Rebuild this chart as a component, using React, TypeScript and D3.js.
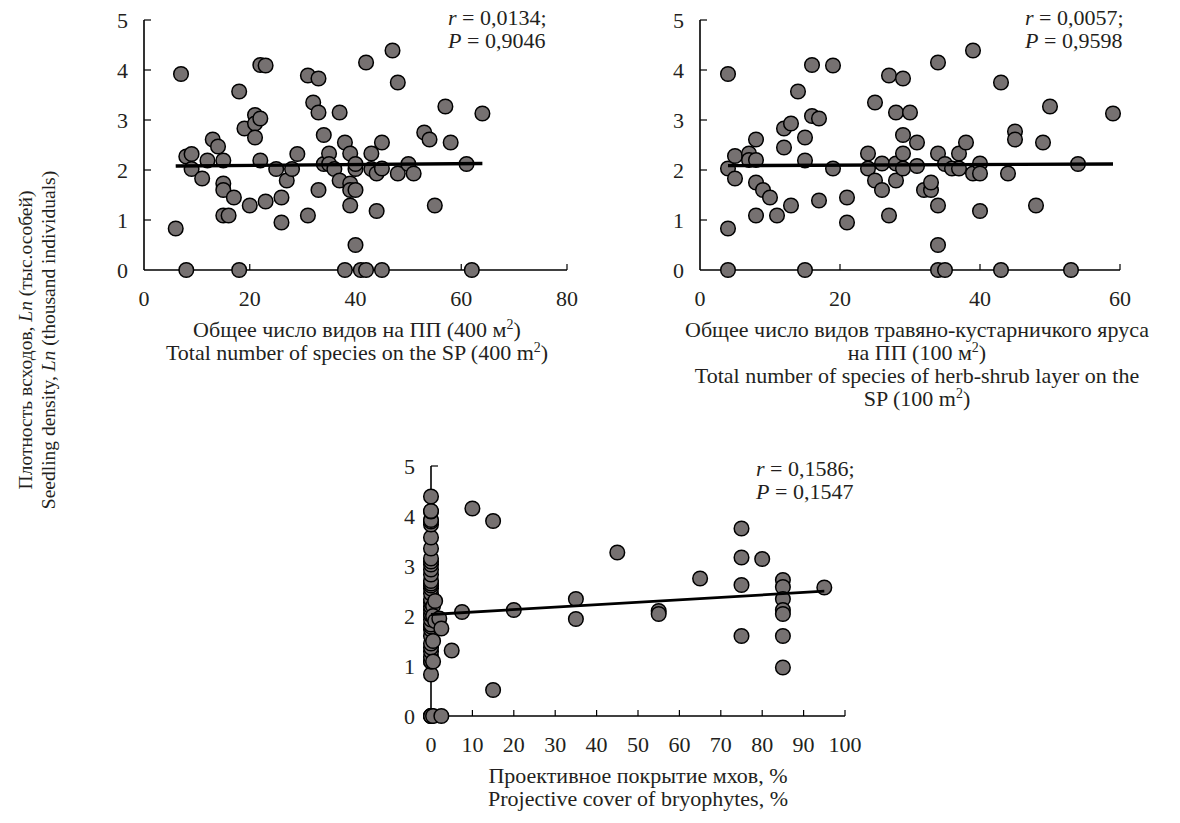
import React from "react";
import * as d3 from "d3";

// Panel 1: total number of species on SP (400 m2) vs Ln seedling density
const speciesTotal = [7, 6, 8, 8, 9, 9, 11, 12, 13, 14, 15, 15, 15, 15, 16, 17, 18, 18, 19, 20, 21, 21, 22, 21, 22, 22, 23, 23, 25, 26, 26, 27, 28, 29, 31, 31, 32, 33, 33, 33, 34, 34, 35, 35, 36, 37, 37, 38, 38, 39, 39, 39, 40, 39, 40, 40, 40, 41, 42, 42, 43, 43, 44, 44, 45, 45, 45, 47, 48, 48, 50, 51, 53, 54, 55, 57, 58, 61, 62, 64];
const densityTotal = [3.92, 0.83, 0, 2.27, 2.32, 2.02, 1.83, 2.19, 2.61, 2.47, 2.19, 1.73, 1.6, 1.09, 1.09, 1.45, 0, 3.57, 2.83, 1.29, 3.1, 2.93, 3.03, 2.65, 2.19, 4.1, 4.09, 1.37, 2.02, 1.45, 0.95, 1.79, 2.02, 2.32, 3.89, 1.09, 3.35, 3.83, 3.15, 1.6, 2.7, 2.12, 2.33, 2.12, 2.02, 3.15, 1.79, 2.55, 0, 2.33, 1.73, 1.6, 1.6, 1.29, 0.5, 2.02, 2.12, 0, 0, 4.15, 2.02, 2.33, 1.93, 1.18, 2.55, 0, 2.03, 4.39, 3.75, 1.93, 2.12, 1.93, 2.75, 2.61, 1.29, 3.27, 2.55, 2.12, 0, 3.13];

// Panel 2: species of herb-shrub layer (100 m2)
const speciesHerb = [4, 4, 4, 4, 5, 5, 7, 7, 8, 8, 8, 8, 9, 10, 11, 12, 12, 13, 13, 14, 15, 15, 15, 16, 16, 17, 17, 19, 19, 21, 21, 24, 24, 25, 25, 26, 26, 27, 27, 28, 28, 28, 29, 29, 29, 29, 30, 31, 31, 32, 33, 33, 34, 34, 34, 34, 34, 35, 35, 36, 37, 37, 38, 39, 39, 40, 40, 40, 43, 43, 44, 45, 45, 48, 49, 50, 53, 54, 59];
const densityHerb = [3.92, 2.03, 0.83, 0, 2.28, 1.83, 2.33, 2.2, 2.61, 2.2, 1.75, 1.09, 1.6, 1.45, 1.09, 2.83, 2.45, 2.93, 1.29, 3.57, 2.65, 2.19, 0, 4.1, 3.08, 3.03, 1.39, 4.09, 2.03, 1.45, 0.95, 2.33, 2.03, 3.35, 1.79, 2.13, 1.6, 3.89, 1.09, 3.15, 2.13, 1.79, 3.83, 2.7, 2.33, 2.03, 3.15, 2.55, 2.08, 1.6, 1.6, 1.75, 4.15, 2.33, 1.29, 0.5, 0, 0, 2.12, 2.03, 2.33, 2.03, 2.55, 4.39, 1.93, 2.13, 1.93, 1.18, 3.75, 0, 1.93, 2.77, 2.61, 1.29, 2.55, 3.27, 0, 2.12, 3.13];

// Panel 3: projective cover of bryophytes, %
const mossCover = [0, 0, 0, 0, 0, 0, 0, 0, 0, 0, 0, 0, 0, 0, 0, 0, 0, 0, 0, 0, 0, 0, 0, 0, 0, 0, 0, 0, 0, 0, 0, 0, 0, 0, 0, 0, 0, 0, 0, 0.5, 0.5, 0.5, 0.5, 0.5, 1, 1, 2, 2.5, 2.5, 5, 7.5, 10, 15, 15, 20, 35, 35, 45, 55, 55, 65, 75, 75, 75, 75, 80, 85, 85, 85, 85, 85, 85, 85, 95];
const densityMoss = [0, 0, 0, 0.83, 1.09, 1.09, 1.18, 1.29, 1.37, 1.45, 1.6, 1.73, 1.79, 1.83, 1.93, 2.02, 2.03, 2.12, 2.19, 2.27, 2.33, 2.45, 2.55, 2.61, 2.65, 2.7, 2.83, 2.93, 3.03, 3.09, 3.15, 3.35, 3.57, 3.83, 3.89, 3.92, 4.09, 4.1, 4.39, 2.2, 1.09, 1.5, 2.0, 0, 2.3, 1.9, 1.95, 1.75, 0, 1.31, 2.08, 4.15, 3.9, 0.52, 2.12, 2.34, 1.94, 3.27, 2.1, 2.04, 2.75, 3.75, 3.17, 2.62, 1.6, 3.14, 2.72, 2.58, 2.34, 2.12, 2.04, 1.6, 0.97, 2.57];

// regression lines
const trendIntercept = [2.075, 2.085, 2.03];
const trendSlope = [0.00086, 0.0006, 0.0049];
const rLabels = ["0,0134", "0,0057", "0,1586"];
const pLabels = ["0,9046", "0,9598", "0,1547"];

const FONT = "'Liberation Serif', 'Times New Roman', serif";
const FS = 22;
const DOT = "#767171";

type TitleLine = { text: string; sup?: string; tail?: string };

function Panel(props: {
  xs: number[];
  ys: number[];
  idx: number;
  xMax: number;
  xStep: number;
  left: number;
  right: number;
  top: number;
  bottom: number;
  statX: number;
  statY: number;
  titleX: number;
  lineW: number;
  title: TitleLine[];
}) {
  const { xs, ys, idx, xMax, xStep, left, right, top, bottom } = props;
  const x = d3.scaleLinear().domain([0, xMax]).range([left, right]);
  const y = d3.scaleLinear().domain([0, 5]).range([bottom, top]);
  const xTicks = d3.range(0, xMax + 0.001, xStep);
  const yTicks = d3.range(0, 6);
  const [x0, x1] = d3.extent(xs) as [number, number];
  const line = d3.line<number>()
    .x((d) => x(d))
    .y((d) => y(trendIntercept[idx] + trendSlope[idx] * d));

  return (
    <g fontFamily={FONT} fontSize={FS} fill="#231f20">
      {/* axes */}
      <line x1={left} x2={left} y1={top} y2={bottom} stroke="#000" strokeWidth={1.6} />
      <line x1={left} x2={right} y1={bottom} y2={bottom} stroke="#000" strokeWidth={1.6} />
      {yTicks.map((t) => (
        <g key={"y" + t}>
          {t > 0 && <line x1={left} x2={left + 7} y1={y(t)} y2={y(t)} stroke="#000" strokeWidth={1.2} />}
          <text x={left - 16} y={y(t) + 7.5} textAnchor="end">{t}</text>
        </g>
      ))}
      {xTicks.map((t) => (
        <g key={"x" + t}>
          {t > 0 && <line x1={x(t)} x2={x(t)} y1={bottom} y2={bottom - 6} stroke="#000" strokeWidth={1.2} />}
          <text x={x(t)} y={bottom + 36} textAnchor="middle">{t}</text>
        </g>
      ))}
      {/* points */}
      {xs.map((d, i) => (
        <circle key={i} cx={x(d)} cy={y(ys[i])} r={7.3} fill={DOT} stroke="#000" strokeWidth={1.5} />
      ))}
      <path d={line([x0, x1]) ?? ""} stroke="#000" strokeWidth={props.lineW} fill="none" />
      {/* stats */}
      <text x={props.statX} y={props.statY}>
        <tspan fontStyle="italic">r</tspan> = {rLabels[idx]};
      </text>
      <text x={props.statX} y={props.statY + 23}>
        <tspan fontStyle="italic">P</tspan> = {pLabels[idx]}
      </text>
      {/* axis title */}
      {props.title.map((l, i) => (
        <text key={i} x={props.titleX} y={bottom + 67 + i * 23} textAnchor="middle">
          {l.text}
          {l.sup && <tspan dy={-8} fontSize={14}>{l.sup}</tspan>}
          {l.tail && <tspan dy={8}>{l.tail}</tspan>}
        </text>
      ))}
    </g>
  );
}

export default function App() {
  return (
    <svg width={1180} height={823} style={{ position: "absolute", left: 0, top: 0, background: "#fff" }}>
      <rect width={1180} height={823} fill="#fff" />
      <Panel
        xs={speciesTotal} ys={densityTotal} idx={0} xMax={80} xStep={20}
        left={144} right={567} top={20} bottom={270}
        statX={448} statY={25} titleX={357} lineW={3.4}
        title={[
          { text: "Общее число видов на ПП (400 м", sup: "2", tail: ")" },
          { text: "Total number of species on the SP (400 m", sup: "2", tail: ")" },
        ]}
      />
      <Panel
        xs={speciesHerb} ys={densityHerb} idx={1} xMax={60} xStep={20}
        left={700} right={1120} top={20} bottom={270}
        statX={1025} statY={25} titleX={917} lineW={3.4}
        title={[
          { text: "Общее число видов травяно-кустарничкого яруса" },
          { text: "на ПП (100 м", sup: "2", tail: ")" },
          { text: "Total number of species of herb-shrub layer on the" },
          { text: "SP (100 m", sup: "2", tail: ")" },
        ]}
      />
      <Panel
        xs={mossCover} ys={densityMoss} idx={2} xMax={100} xStep={10}
        left={431} right={845} top={466} bottom={716}
        statX={756} statY={476} titleX={638} lineW={2.8}
        title={[
          { text: "Проективное покрытие мхов, %" },
          { text: "Projective cover of bryophytes, %" },
        ]}
      />
      <g fontFamily={FONT} fontSize={19.5} fill="#231f20" transform="translate(0,340) rotate(-90)">
        <text x={0} y={32} textAnchor="middle">
          Плотность всходов, <tspan fontStyle="italic">Ln</tspan> (тыс.особей)
        </text>
        <text x={0} y={55} textAnchor="middle">
          Seedling density, <tspan fontStyle="italic">Ln</tspan> (thousand individuals)
        </text>
      </g>
    </svg>
  );
}
